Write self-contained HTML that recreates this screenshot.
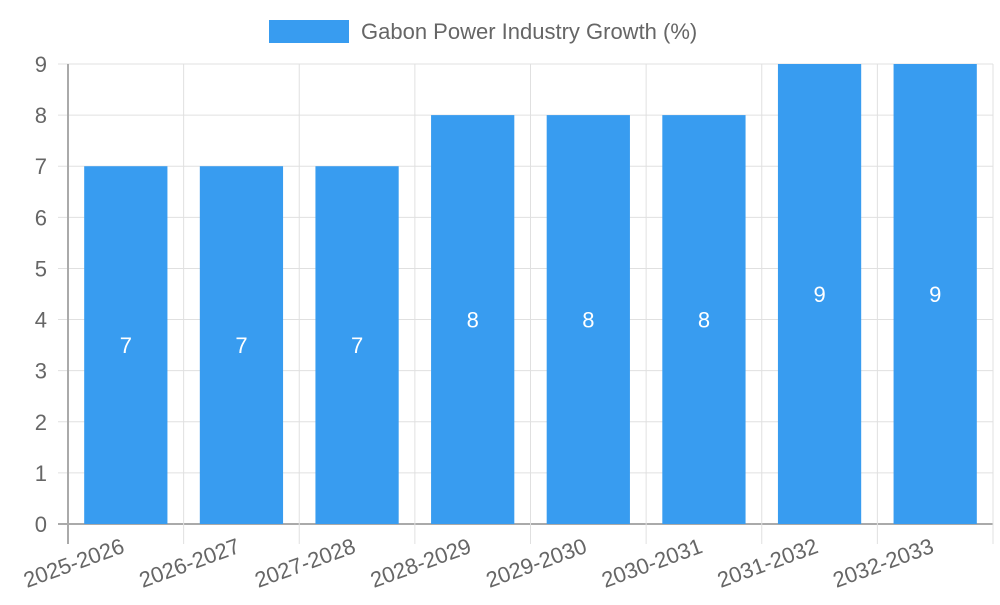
<!DOCTYPE html>
<html><head><meta charset="utf-8"><style>
html,body{margin:0;padding:0;background:#fff;}
svg text{font-family:"Liberation Sans",sans-serif;}
</style></head><body>
<svg id="chart" width="1000" height="600" xmlns="http://www.w3.org/2000/svg">
<g>
<rect x="269" y="20" width="80" height="23" fill="#389cf0"/>
<text x="361" y="39" font-size="22" fill="#666">Gabon Power Industry Growth (%)</text>
</g>
<g id="grid"></g><g id="bars"></g><g id="labels"></g>
</svg>
<script>
const categories=["2025-2026","2026-2027","2027-2028","2028-2029","2029-2030","2030-2031","2031-2032","2032-2033"];
const values=[7,7,7,8,8,8,9,9];
const yTicks=[0,1,2,3,4,5,6,7,8,9];
const NS="http://www.w3.org/2000/svg";
const L=68,R=993,T=64,B=524,yMax=9;
const band=(R-L)/categories.length;
const y=v=>B-(v/yMax)*(B-T);
const x=i=>L+i*band;
function mk(tag,attrs,parent,text){const e=document.createElementNS(NS,tag);for(const k in attrs)e.setAttribute(k,attrs[k]);if(text!==undefined)e.textContent=text;document.getElementById(parent).appendChild(e);return e;}
yTicks.forEach(t=>{
 const g=mk('line',{x1:58,x2:R,y1:y(t),y2:y(t),stroke:t===0?'#aaa':'#e0e0e0','stroke-width':t===0?2:1},'grid');
 
 
 const l=mk('text',{x:47,y:y(t)+8,'font-size':22,fill:'#666','text-anchor':'end'},'labels',String(t));
 
 
});
for(let i=0;i<=categories.length;i++){
 const g=mk('line',{x1:x(i),x2:x(i),y1:T,y2:544,stroke:i===0?'#aaa':'#e0e0e0','stroke-width':i===0?2:1},'grid');
 
 
}
categories.forEach((c,i)=>{
 const bw=band*0.72,bx=x(i)+(band-bw)/2;
 const b=mk('rect',{x:bx,y:y(values[i]),width:bw,height:B-y(values[i]),fill:'#389cf0'},'bars');
 
 
 const v=mk('text',{x:x(i)+band/2,y:(y(values[i])+B)/2+8,'font-size':22,fill:'#fff','text-anchor':'middle'},'labels',String(values[i]));
 
 
 const cx=x(i)+band/2;
 const t=mk('text',{x:cx,y:552,'font-size':22,fill:'#666','text-anchor':'end',transform:`rotate(-20 ${cx} 552)`},'labels',c);
 
 
});
</script>
</body></html>
